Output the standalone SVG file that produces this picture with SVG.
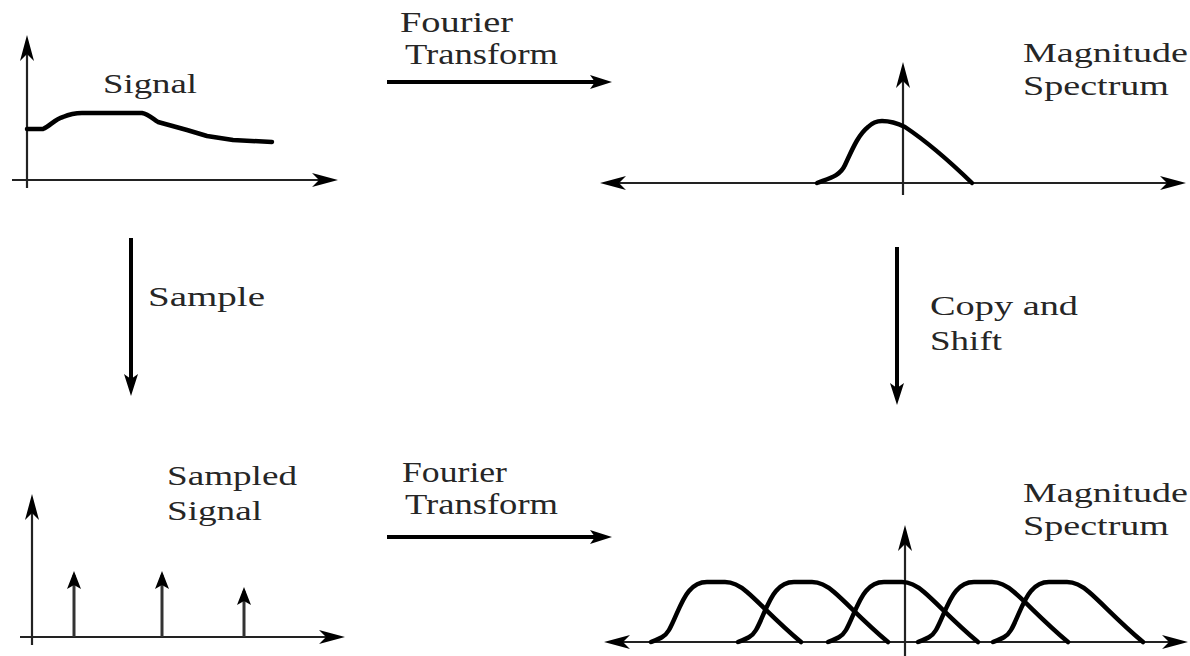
<svg xmlns="http://www.w3.org/2000/svg" xmlns:xlink="http://www.w3.org/1999/xlink" width="1190" height="656" viewBox="0 0 1190 656">
<style>
text{font-family:"Liberation Serif","DejaVu Serif",serif;fill:#262626}
.lbl{font-size:27px}
.big{font-size:29px}
.axis{stroke:#222;stroke-width:2.2;fill:none}
.flow{stroke:#000;stroke-width:4;fill:none}
.curve{stroke:#000;stroke-width:4.5;fill:none;stroke-linejoin:round;stroke-linecap:round}
.stem{stroke:#333;stroke-width:3;fill:none}
</style>
<defs>
<marker id="ah" viewBox="0 0 22 14" refX="14" refY="7" markerWidth="22" markerHeight="14" markerUnits="userSpaceOnUse" orient="auto">
<path d="M0,0 L22,7 L0,14 L5,7 z" fill="#000"/>
</marker>
<marker id="ax" viewBox="0 0 26 14" refX="20" refY="7" markerWidth="26" markerHeight="14" markerUnits="userSpaceOnUse" orient="auto-start-reverse">
<path d="M0,0 L26,7 L0,14 L7,7 z" fill="#000"/>
</marker>
<marker id="sh" viewBox="0 0 18 16" refX="14" refY="8" markerWidth="18" markerHeight="16" markerUnits="userSpaceOnUse" orient="auto">
<path d="M0,1 L18,8 L0,15 L4,8 z" fill="#000"/>
</marker>
<path id="bump" d="M0,0 C8,-3 14,-5 18,-12 C24,-22 30,-42 38,-51 C43,-57 48,-60 56,-60 L74,-60 C82,-60 88,-57 96,-50 C110,-38 124,-22 150,0"/>
</defs>

<g id="signal">
<line class="axis" x1="27" y1="188" x2="27" y2="41" marker-end="url(#ax)"/>
<line class="axis" x1="12" y1="180" x2="332" y2="180" marker-end="url(#ax)"/>
<path class="curve" d="M27,129 L43,129 C50,126 55,119 63,117 C70,114 76,113 82,113 L142,113 C148,114 152,118 158,122 L187,130 L207,136 L233,140 L272,142"/>
<text class="lbl" x="103" y="93" textLength="94" lengthAdjust="spacingAndGlyphs">Signal</text>
</g>

<g id="magnitude-spectrum">
<line class="axis" x1="903" y1="195" x2="903" y2="68" marker-end="url(#ax)"/>
<line class="axis" x1="606" y1="183" x2="1180" y2="183" marker-start="url(#ax)" marker-end="url(#ax)"/>
<path class="curve" d="M817,183 C830,178 840,176 845,165 C852,150 858,135 868,127 C873,122 877,121 882,121 C890,121 897,123 905,127 C920,137 940,152 972,183"/>
<text class="lbl" x="1023" y="62" textLength="165" lengthAdjust="spacingAndGlyphs">Magnitude</text>
<text class="lbl" x="1023" y="95" textLength="146" lengthAdjust="spacingAndGlyphs">Spectrum</text>
</g>

<g id="sampled-signal">
<line class="axis" x1="32" y1="645" x2="32" y2="500" marker-end="url(#ax)"/>
<line class="axis" x1="20" y1="637" x2="339" y2="637" marker-end="url(#ax)"/>
<line class="stem" x1="74" y1="637" x2="74" y2="575" marker-end="url(#sh)"/>
<line class="stem" x1="162" y1="637" x2="162" y2="575" marker-end="url(#sh)"/>
<line class="stem" x1="244" y1="637" x2="244" y2="591" marker-end="url(#sh)"/>
<text class="lbl" x="167" y="485" textLength="130" lengthAdjust="spacingAndGlyphs">Sampled</text>
<text class="lbl" x="167" y="520" textLength="95" lengthAdjust="spacingAndGlyphs">Signal</text>
</g>

<g id="replicated-spectrum">
<line class="axis" x1="905" y1="656" x2="905" y2="531" marker-end="url(#ax)"/>
<line class="axis" x1="610" y1="642" x2="1182" y2="642" marker-start="url(#ax)" marker-end="url(#ax)"/>
<use href="#bump" xlink:href="#bump" class="curve" transform="translate(651,642)"/>
<use href="#bump" xlink:href="#bump" class="curve" transform="translate(738,642)"/>
<use href="#bump" xlink:href="#bump" class="curve" transform="translate(828,642)"/>
<use href="#bump" xlink:href="#bump" class="curve" transform="translate(918,642)"/>
<use href="#bump" xlink:href="#bump" class="curve" transform="translate(993,642)"/>
<text class="lbl" x="1023" y="502" textLength="165" lengthAdjust="spacingAndGlyphs">Magnitude</text>
<text class="lbl" x="1023" y="535" textLength="146" lengthAdjust="spacingAndGlyphs">Spectrum</text>
</g>

<g id="connectors">
<line class="flow" x1="387" y1="82" x2="604" y2="82" marker-end="url(#ah)"/>
<line class="flow" x1="387" y1="537" x2="604" y2="537" marker-end="url(#ah)"/>
<line class="flow" x1="131" y1="238" x2="131" y2="388" marker-end="url(#ah)"/>
<line class="flow" x1="897" y1="247" x2="897" y2="397" marker-end="url(#ah)"/>
<text class="big" x="400" y="32" textLength="113" lengthAdjust="spacingAndGlyphs">Fourier</text>
<text class="big" x="405" y="64" textLength="153" lengthAdjust="spacingAndGlyphs">Transform</text>
<text class="big" x="402" y="482" textLength="105" lengthAdjust="spacingAndGlyphs">Fourier</text>
<text class="big" x="405" y="514" textLength="153" lengthAdjust="spacingAndGlyphs">Transform</text>
<text class="lbl" x="148" y="306" textLength="117" lengthAdjust="spacingAndGlyphs">Sample</text>
<text class="lbl" x="930" y="315" textLength="148" lengthAdjust="spacingAndGlyphs">Copy and</text>
<text class="lbl" x="930" y="350" textLength="72" lengthAdjust="spacingAndGlyphs">Shift</text>
</g>
</svg>
